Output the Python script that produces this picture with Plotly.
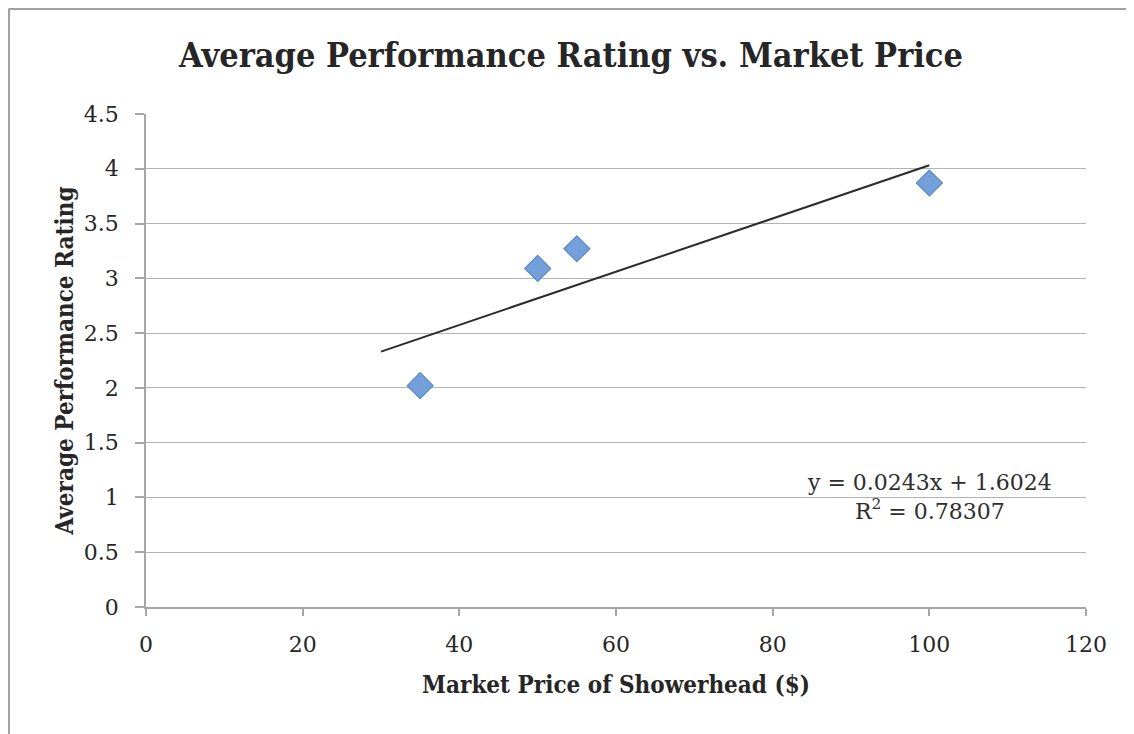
import plotly.graph_objects as go

# Data
price = [35, 50, 55, 100]
rating = [2.02, 3.09, 3.27, 3.87]
trend_slope = 0.0243
trend_intercept = 1.6024
r_squared = 0.78307
trend_x = [30, 100]
trend_y = [trend_slope * x + trend_intercept for x in trend_x]

title_text = "Average Performance Rating vs. Market Price"
x_title = "Market Price of Showerhead ($)"
y_title = "Average Performance Rating"

serif = "DejaVu Serif, Liberation Serif, serif"
serif_cond = "DejaVu Serif Condensed, DejaVu Serif, serif"

W, H = 1126, 726
L, R, T, B = 138, 48, 106, 127
PW, PH = W - L - R, H - T - B

fig = go.Figure()
fig.add_trace(go.Scatter(
    x=trend_x, y=trend_y, mode="lines",
    line=dict(color="#2b2b2b", width=2), showlegend=False, hoverinfo="skip"))
fig.add_trace(go.Scatter(
    x=price, y=rating, mode="markers",
    marker=dict(symbol="diamond", size=20, color="#74a0d9",
                line=dict(color="#5d89c6", width=1.2)),
    showlegend=False))

fig.add_annotation(
    x=100, y=1.0, xref="x", yref="y",
    text=f"y = {trend_slope}x + {trend_intercept}<br>R<sup>2</sup> = {r_squared}",
    showarrow=False, align="center", xanchor="center", yanchor="middle",
    font=dict(family=serif, size=22, color="#2e2e2e"))

# outer chart frame (top and left edges)
fig.add_shape(type="line", xref="paper", yref="paper",
              x0=-L / PW + 0.5 / PW, x1=(W - L) / PW, y0=1 + (T - 1) / PH, y1=1 + (T - 1) / PH,
              line=dict(color="#a0a0a0", width=2))
fig.add_shape(type="line", xref="paper", yref="paper",
              x0=-L / PW + 1 / PW, x1=-L / PW + 1 / PW, y0=-B / PH, y1=1 + (T - 1) / PH,
              line=dict(color="#a0a0a0", width=2))

tickfont = dict(family=serif, size=22, color="#262626")
titlefont = dict(family=serif_cond, size=24, color="#262626")

fig.update_layout(
    width=W, height=H,
    paper_bgcolor="white", plot_bgcolor="white",
    margin=dict(l=L, r=R, t=T, b=B),
    title=dict(text=f"<b>{title_text}</b>", x=0.5, xref="container", xanchor="center",
               y=1 - 47 / H, yanchor="middle",
               font=dict(family=serif_cond, size=34, color="#262626")),
    xaxis=dict(range=[0, 120], dtick=20, showgrid=False,
               showline=True, linecolor="#a6a6a6", linewidth=1.5,
               ticks="outside", ticklen=7, tickcolor="#a6a6a6", tickwidth=1.5,
               ticklabelstandoff=10,
               tickfont=tickfont,
               title=dict(text=f"<b>{x_title}</b>", standoff=20, font=titlefont),
               zeroline=False),
    yaxis=dict(range=[0, 4.5], dtick=0.5, showgrid=True, gridcolor="#b3b3b3", gridwidth=1.2,
               showline=True, linecolor="#a6a6a6", linewidth=1.5,
               ticks="outside", ticklen=9, tickcolor="#a6a6a6", tickwidth=1.5,
               ticklabelstandoff=12,
               tickfont=tickfont,
               title=dict(text=f"<b>{y_title}</b>", standoff=3, font=titlefont),
               zeroline=False),
)

fig.write_html("out.html")
